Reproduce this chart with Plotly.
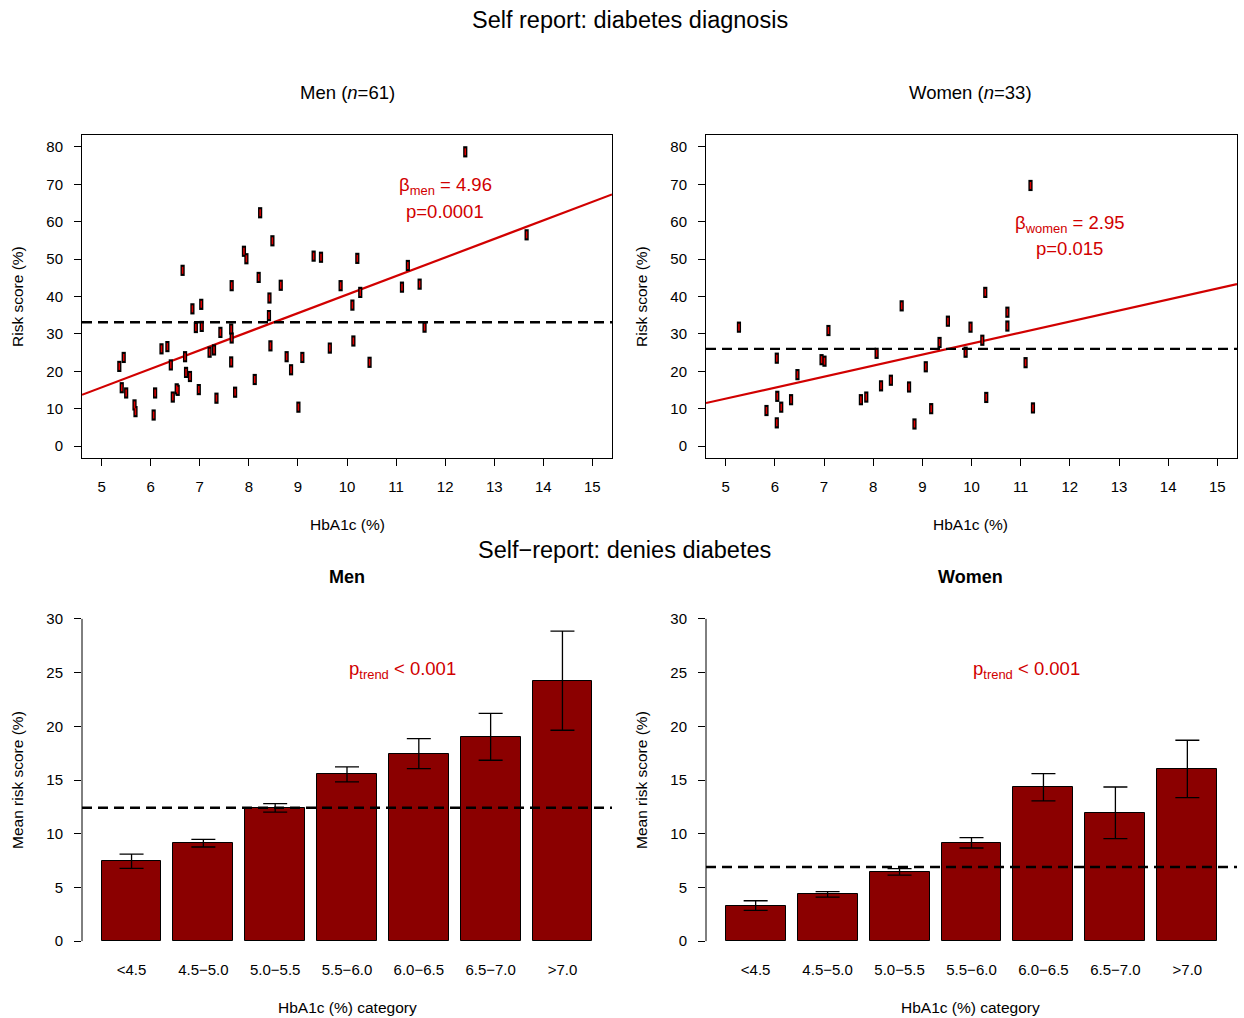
import plotly.graph_objects as go

# ---------------- data ----------------
men_hba1c = [5.36, 5.45, 5.41, 5.50, 5.67, 5.69, 6.06, 6.09, 6.22, 6.34, 6.41, 6.45, 6.53, 6.55, 6.65, 6.70,
             6.72, 6.80, 6.85, 6.92, 6.98, 7.03, 7.04, 7.20, 7.29, 7.34, 7.42, 7.64, 7.65, 7.65, 7.64, 7.72,
             7.90, 7.95, 8.12, 8.20, 8.23, 8.42, 8.41, 8.44, 8.48, 8.65, 8.77, 8.86, 9.01, 9.09, 9.32, 9.47,
             9.65, 9.87, 10.21, 10.27, 10.11, 10.13, 10.46, 11.12, 11.24, 11.48, 11.58, 12.41, 13.66]
men_risk = [21.3, 23.7, 15.6, 14.2, 11.0, 9.2, 8.3, 14.2, 26.0, 26.6, 21.7, 13.1, 15.3, 14.9, 47.0, 23.9,
            19.7, 18.6, 36.7, 31.7, 15.1, 37.9, 32.0, 25.1, 25.7, 12.8, 30.4, 31.3, 28.9, 42.9, 22.5, 14.4,
            52.1, 50.1, 17.8, 45.1, 62.4, 39.6, 34.9, 26.8, 54.9, 43.0, 23.9, 20.4, 10.4, 23.7, 50.8, 50.5,
            26.2, 42.9, 50.2, 41.1, 37.7, 28.1, 22.4, 42.5, 48.3, 43.3, 31.8, 78.7, 56.5]
women_hba1c = [5.27, 5.83, 6.04, 6.05, 6.04, 6.13, 6.33, 6.46, 6.95, 7.01, 7.09, 7.75, 7.86, 8.07, 8.16,
               8.36, 8.58, 8.73, 8.84, 9.07, 9.18, 9.35, 9.52, 9.88, 9.98, 10.22, 10.28, 10.30, 10.73,
               10.73, 11.10, 11.20, 11.25]
women_risk = [31.8, 9.5, 23.5, 13.3, 6.2, 10.4, 12.4, 19.1, 23.1, 22.7, 30.9, 12.4, 13.1, 24.8, 16.1,
              17.6, 37.5, 15.8, 5.9, 21.2, 10.0, 27.7, 33.4, 25.1, 31.8, 28.3, 41.1, 13.0, 35.8,
              32.1, 22.3, 69.7, 10.2]

men_fit_x = [4.6, 15.4]
men_fit_y = [13.7, 67.3]
women_fit_x = [4.6, 15.4]
women_fit_y = [11.5, 43.3]
men_ref_scatter = 33.1
women_ref_scatter = 26.0

categories = ["<4.5", "4.5\u22125.0", "5.0\u22125.5", "5.5\u22126.0", "6.0\u22126.5", "6.5\u22127.0", ">7.0"]
men_mean = [7.43, 9.10, 12.36, 15.53, 17.43, 19.04, 24.26]
men_upper = [8.10, 9.48, 12.80, 16.22, 18.86, 21.21, 28.86]
men_lower = [6.77, 8.76, 12.00, 14.82, 16.06, 16.84, 19.63]
women_mean = [3.29, 4.38, 6.40, 9.16, 14.32, 11.96, 16.00]
women_upper = [3.76, 4.60, 6.74, 9.63, 15.59, 14.35, 18.70]
women_lower = [2.86, 4.10, 6.15, 8.67, 13.05, 9.54, 13.35]
men_ref_bar = 12.42
women_ref_bar = 6.90

x_ticks_top = [5, 6, 7, 8, 9, 10, 11, 12, 13, 14, 15]
y_ticks_top = [0, 10, 20, 30, 40, 50, 60, 70, 80]
y_ticks_bottom = [0, 5, 10, 15, 20, 25, 30]

# ---------------- style ----------------
W, H = 1244, 1018
FONT = "Liberation Sans, Arial, Helvetica, sans-serif"
RED = "#D10000"
BAR = "#8B0000"
bar_pos = [0.7 + 1.2 * i for i in range(len(categories))]


def px(x):
    return x / W


def py(y):
    return 1 - y / H


fig = go.Figure()


def add_scatter(xs, ys, fx, fy, ref, xa, ya):
    fig.add_trace(go.Scatter(x=fx, y=fy, mode="lines", line=dict(color=RED, width=2.2),
                             xaxis=xa, yaxis=ya, showlegend=False, hoverinfo="skip"))
    fig.add_trace(go.Scatter(x=xs, y=ys, mode="markers",
                             marker=dict(symbol="line-ns", size=8, line=dict(color="black", width=4.2)),
                             xaxis=xa, yaxis=ya, showlegend=False))
    fig.add_trace(go.Scatter(x=xs, y=ys, mode="markers",
                             marker=dict(symbol="line-ns", size=5, line=dict(color="#E00000", width=1.5)),
                             xaxis=xa, yaxis=ya, showlegend=False))
    fig.add_shape(type="line", xref=xa + " domain", x0=0, x1=1, yref=ya, y0=ref, y1=ref,
                  line=dict(color="black", width=2.4, dash="10px,6px"), layer="above")


def add_bars(mean, upper, lower, ref, xa, ya):
    fig.add_trace(go.Bar(x=bar_pos, y=mean, width=1.0,
                         marker=dict(color=BAR, line=dict(color="black", width=1)),
                         error_y=dict(type="data", symmetric=False,
                                      array=[u - m for u, m in zip(upper, mean)],
                                      arrayminus=[m - l for m, l in zip(mean, lower)],
                                      color="black", thickness=1.3, width=12),
                         xaxis=xa, yaxis=ya, showlegend=False))
    fig.add_shape(type="line", xref=xa + " domain", x0=0, x1=1, yref=ya, y0=ref, y1=ref,
                  line=dict(color="black", width=2.4, dash="10px,6px"), layer="above")
    fig.add_shape(type="line", xref=xa + " domain", x0=0, x1=0, yref=ya, y0=0, y1=30,
                  line=dict(color="black", width=1))


add_scatter(men_hba1c, men_risk, men_fit_x, men_fit_y, men_ref_scatter, "x", "y")
add_scatter(women_hba1c, women_risk, women_fit_x, women_fit_y, women_ref_scatter, "x2", "y2")
add_bars(men_mean, men_upper, men_lower, men_ref_bar, "x3", "y3")
add_bars(women_mean, women_upper, women_lower, women_ref_bar, "x4", "y4")

tickfont = dict(family=FONT, size=15, color="black")
left_dom = [px(82), px(612)]
right_dom = [px(706), px(1237)]
top_dom = [py(458), py(135)]
bot_dom = [py(954), py(606)]

top_x = dict(range=[4.6, 15.4], tickvals=x_ticks_top, showline=True, mirror=True, linecolor="black",
             linewidth=1, ticks="outside", ticklen=7, tickcolor="black", tickfont=tickfont,
             showgrid=False, zeroline=False, ticklabelstandoff=8, fixedrange=True)
top_y = dict(range=[-3.2, 83.2], tickvals=y_ticks_top, showline=True, mirror=True, linecolor="black",
             linewidth=1, ticks="outside", ticklen=7, tickcolor="black", tickfont=tickfont,
             showgrid=False, zeroline=False, ticklabelstandoff=8, fixedrange=True)
bot_x = dict(range=[-0.128, 8.728], tickvals=bar_pos, ticktext=categories, showline=False, ticks="",
             tickfont=tickfont, showgrid=False, zeroline=False, ticklabelstandoff=5, fixedrange=True)
bot_y = dict(range=[-1.2, 31.2], tickvals=y_ticks_bottom, showline=False, ticks="outside", ticklen=7,
             tickcolor="black", tickfont=tickfont, showgrid=False, zeroline=False,
             ticklabelstandoff=8, fixedrange=True)

fig.update_layout(
    width=W, height=H, margin=dict(l=0, r=0, t=0, b=0), autosize=False,
    paper_bgcolor="white", plot_bgcolor="white",
    font=dict(family=FONT, color="black"),
    bargap=0,
    xaxis=dict(top_x, domain=left_dom, anchor="y"),
    yaxis=dict(top_y, domain=top_dom, anchor="x"),
    xaxis2=dict(top_x, domain=right_dom, anchor="y2"),
    yaxis2=dict(top_y, domain=top_dom, anchor="x2"),
    xaxis3=dict(bot_x, domain=left_dom, anchor="y3"),
    yaxis3=dict(bot_y, domain=bot_dom, anchor="x3"),
    xaxis4=dict(bot_x, domain=right_dom, anchor="y4"),
    yaxis4=dict(bot_y, domain=bot_dom, anchor="x4"),
)


def ann(text, x, y, size, angle=0, color="black", xref="paper", yref="paper"):
    fig.add_annotation(text=text, x=x, y=y, xref=xref, yref=yref, showarrow=False,
                       xanchor="center", yanchor="middle", textangle=angle,
                       font=dict(family=FONT, size=size, color=color))


# titles
ann("Self report: diabetes diagnosis", px(630), py(20), 23.5)
ann("Self\u2212report: denies diabetes", px(624), py(550), 23.5)
ann("Men (<i>n</i>=61)", px(347), py(92), 18.5)
ann("Women (<i>n</i>=33)", px(970), py(92), 18.5)
ann("<b>Men</b>", px(347), py(577), 18)
ann("<b>Women</b>", px(970), py(577), 18)
# axis titles
ann("HbA1c (%)", px(347), py(524), 15.5)
ann("HbA1c (%)", px(970), py(524), 15.5)
ann("HbA1c (%) category", px(347), py(1007), 15.5)
ann("HbA1c (%) category", px(970), py(1007), 15.5)
ann("Risk score (%)", px(17), py(297), 15.5, angle=-90)
ann("Risk score (%)", px(641), py(297), 15.5, angle=-90)
ann("Mean risk score (%)", px(17), py(780), 15.5, angle=-90)
ann("Mean risk score (%)", px(641), py(780), 15.5, angle=-90)
# red statistics
ann("\u03b2<sub>men</sub> = 4.96", 12, 69.5, 18.5, color=RED, xref="x", yref="y")
ann("p=0.0001", 12, 62.8, 18.5, color=RED, xref="x", yref="y")
ann("\u03b2<sub>women</sub> = 2.95", 12, 59.5, 18.5, color=RED, xref="x2", yref="y2")
ann("p=0.015", 12, 52.8, 18.5, color=RED, xref="x2", yref="y2")
ann("p<sub>trend</sub> &lt; 0.001", 5.23, 25.2, 18.5, color=RED, xref="x3", yref="y3")
ann("p<sub>trend</sub> &lt; 0.001", 5.22, 25.2, 18.5, color=RED, xref="x4", yref="y4")

fig.write_html("out.html", config={"displayModeBar": False},
               post_script="document.body.style.margin='0px';document.body.style.overflow='hidden';")
